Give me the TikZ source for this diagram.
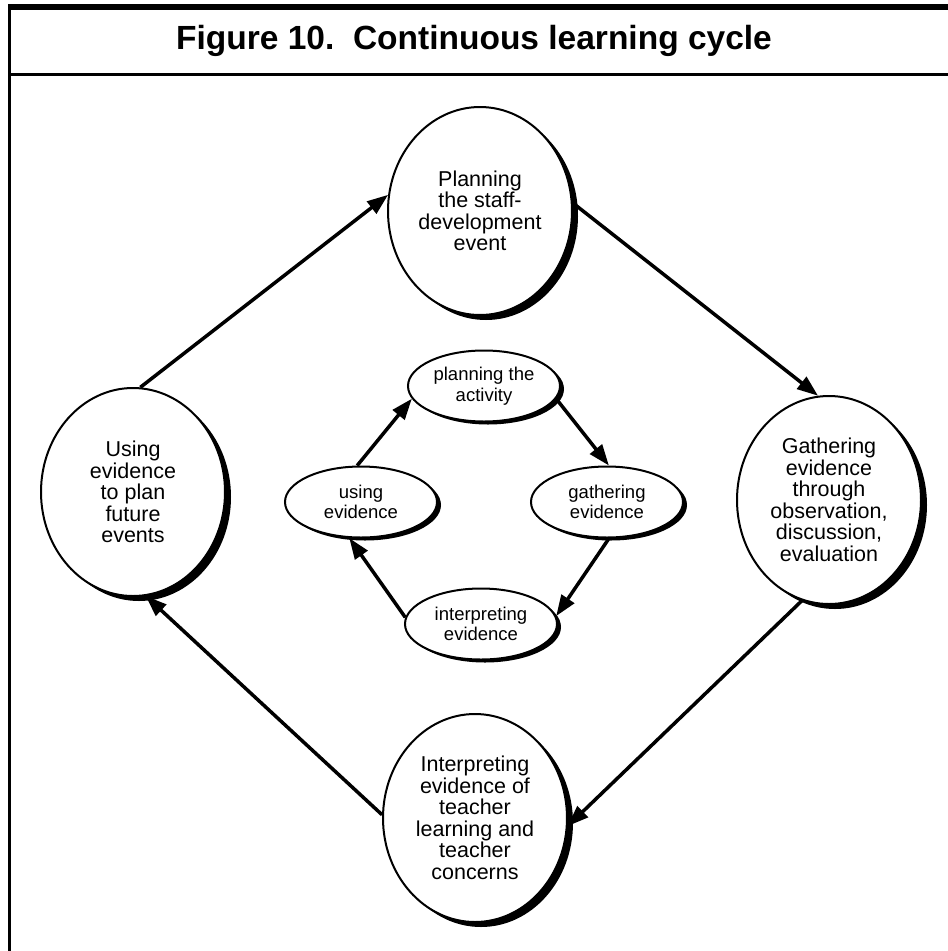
\documentclass[tikz,border=0pt]{standalone}
\usepackage{fontspec}
\setmainfont{Liberation Sans}
\usetikzlibrary{shapes.geometric,arrows.meta,shadows}
\begin{document}
\begin{tikzpicture}[x=1pt,y=-1pt,
  big/.style={ellipse, draw, line width=2pt, fill=white, inner sep=0pt,
    minimum width=184pt, minimum height=208pt, align=center,
    font=\fontsize{21.5}{21.5}\selectfont,
    drop shadow={shadow xshift=6pt, shadow yshift=-5pt, fill=black, opacity=1}},
  small/.style={ellipse, draw, line width=2pt, fill=white, inner sep=0pt,
    minimum width=152pt, minimum height=71pt, align=center,
    font=\fontsize{18.5}{20.5}\selectfont,
    drop shadow={shadow xshift=4pt, shadow yshift=-3pt, fill=black, opacity=1}},
  arr/.style={line width=3.5pt, -{Triangle[length=21pt,width=15pt]}}]
\useasboundingbox (0,0) rectangle (948,951);
% frame
\fill (8,4) rectangle (948,10);
\fill (8,4) rectangle (11,951);
\fill (8,73) rectangle (948,76);
\node[font=\fontsize{33.5}{33.5}\selectfont\bfseries] (title) at (474,41) {Figure 10.\ \ Continuous learning cycle};
% big cycle
\node[big] (plan) at (480,211) {Planning\\the staff-\\development\\event};
\node[big] (gath) at (829,500) {Gathering\\evidence\\through\\observation,\\discussion,\\evaluation};
\node[big] (interp) at (475,818) {Interpreting\\evidence of\\teacher\\learning and\\teacher\\concerns};
\node[big] (use) at (133,492) {Using\\evidence\\to plan\\future\\events};
% small cycle
\node[small] (splan) at (484,386) {planning the\\activity};
\node[small] (suse) at (361,502) {using\\evidence};
\node[small] (sgath) at (607,502) {gathering\\evidence};
\node[small] (sinterp) at (481,624) {interpreting\\evidence};
% arrows
\draw[arr] (use.86) -- (plan.170);
\draw[arr] (plan.5) -- (gath.96);
\draw[arr] (gath.255) -- (interp.-5);
\draw[arr] (interp.178) -- (use.-83);
\draw[arr] (suse.96) -- (splan.190);
\draw[arr] (splan.-10) -- (sgath.87);
\draw[arr] (sgath.-87) -- (sinterp.6);
\draw[arr] (sinterp.175) -- (suse.-108);
\end{tikzpicture}
\end{document}
